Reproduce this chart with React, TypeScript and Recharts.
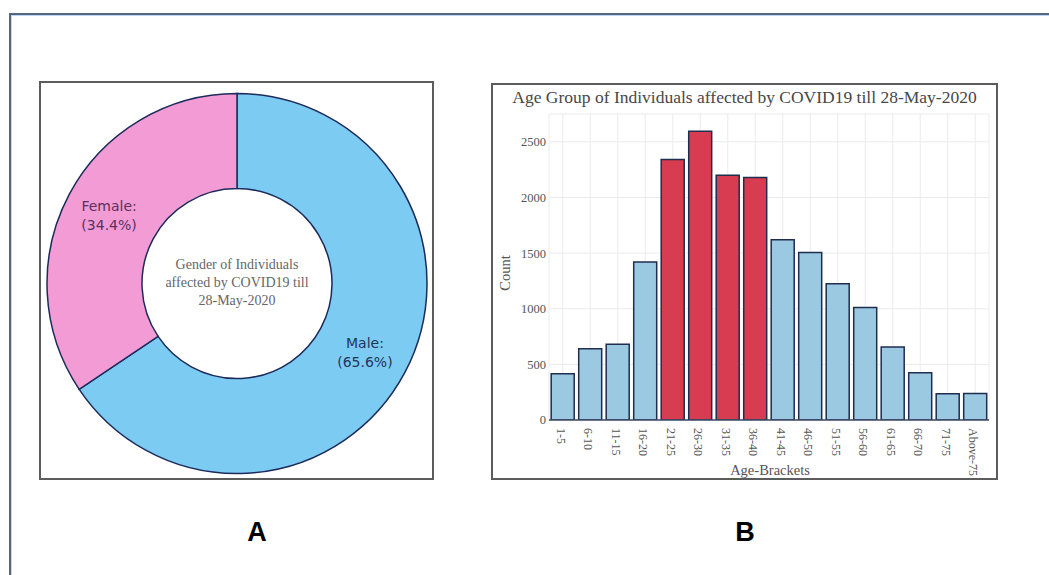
import React from 'react';
import { PieChart, Pie, Cell, BarChart, Bar, XAxis, YAxis, CartesianGrid } from 'recharts';

const genderNames = ['Male', 'Female'];
const genderShares = [65.6, 34.4];
const genderColors = ['#7ccbf3', '#f29bd5'];
const genderLabelColors = ['#1f3658', '#5a3262'];

const ageBrackets = ['1-5', '6-10', '11-15', '16-20', '21-25', '26-30', '31-35', '36-40', '41-45', '46-50', '51-55', '56-60', '61-65', '66-70', '71-75', 'Above-75'];
const ageCounts = [415, 640, 680, 1420, 2340, 2595, 2200, 2180, 1620, 1505, 1225, 1010, 655, 425, 235, 238];
const highlightedBrackets = ['21-25', '26-30', '31-35', '36-40'];
const yTicks = [0, 500, 1000, 1500, 2000, 2500];

const pieData = genderNames.map((name, i) => ({ name, value: genderShares[i] }));
const barData = ageBrackets.map((name, i) => ({ name, count: ageCounts[i] }));

const SERIF = '"Liberation Serif", "Times New Roman", serif';
const SANS = '"DejaVu Sans", Verdana, sans-serif';
const RADIAN = Math.PI / 180;

const renderPieLabel = (props: any) => {
  const { cx, cy, midAngle, index, name, value } = props;
  const r = 145;
  const x = cx + r * Math.cos(-midAngle * RADIAN);
  const y = cy + r * Math.sin(-midAngle * RADIAN);
  return (
    <text x={x} y={y} textAnchor="middle" fontFamily={SANS} fontSize={14} fill={genderLabelColors[index]}>
      <tspan x={x} dy={-4}>{`${name}:`}</tspan>
      <tspan x={x} dy={19}>{`(${Number(value).toFixed(1)}%)`}</tspan>
    </text>
  );
};

const XTick = (props: any) => {
  const { x, y, payload } = props;
  return (
    <text
      x={0}
      y={0}
      transform={`translate(${x - 2},${y}) rotate(90)`}
      textAnchor="start"
      dominantBaseline="central"
      fontFamily={SERIF}
      fontSize={12}
      fill="#555"
    >
      {payload.value}
    </text>
  );
};

export default function App() {
  return (
    <div style={{ position: 'absolute', left: 0, top: 0, width: 1049, height: 575, background: '#fff', overflow: 'hidden' }}>
      {/* outer frame */}
      <div style={{ position: 'absolute', left: 9, top: 13, width: 1100, height: 600, borderTop: '2px solid #56667f', borderLeft: '2px solid #56667f', boxSizing: 'border-box' }}>
        <div style={{ position: 'absolute', left: 0, top: 0, right: 0, bottom: 0, borderTop: '1px solid #bcd6f2', borderLeft: '1px solid #bcd6f2' }} />
      </div>

      {/* Panel A */}
      <div style={{ position: 'absolute', left: 39, top: 81, width: 395, height: 399, border: '2px solid #5c5c5c', boxSizing: 'border-box' }} />
      <div style={{ position: 'absolute', left: 39, top: 81 }}>
        <PieChart width={395} height={399} margin={{ top: 0, right: 0, bottom: 0, left: 0 }}>
          <Pie
            data={pieData}
            dataKey="value"
            nameKey="name"
            cx={198}
            cy={202.5}
            innerRadius={95}
            outerRadius={190}
            startAngle={90}
            endAngle={-270}
            stroke="#1c2b5c"
            strokeWidth={1.5}
            label={renderPieLabel}
            labelLine={false}
            isAnimationActive={false}
          >
            {pieData.map((d, i) => (
              <Cell key={d.name} fill={genderColors[i]} />
            ))}
          </Pie>
        </PieChart>
      </div>
      <div style={{ position: 'absolute', left: 137, top: 256, width: 200, textAlign: 'center', fontFamily: SERIF, fontSize: 14, lineHeight: '18px', color: '#666' }}>
        Gender of Individuals<br />affected by COVID19 till<br />28-May-2020
      </div>

      {/* Panel B */}
      <div style={{ position: 'absolute', left: 491, top: 83, width: 507, height: 397, border: '2px solid #5c5c5c', boxSizing: 'border-box' }} />
      <div style={{ position: 'absolute', left: 491, top: 86, width: 507, textAlign: 'center', fontFamily: SERIF, fontSize: 17.5, lineHeight: '22px', color: '#474747' }}>
        Age Group of Individuals affected by COVID19 till 28-May-2020
      </div>
      <div style={{ position: 'absolute', left: 491, top: 83 }}>
        <BarChart
          width={507}
          height={397}
          data={barData}
          margin={{ top: 31, right: 9, bottom: 10, left: 8 }}
          barCategoryGap="8%"
        >
          <CartesianGrid stroke="#ebebeb" strokeWidth={1} />
          <XAxis
            dataKey="name"
            interval={0}
            height={50}
            tick={<XTick />}
            tickLine={false}
            axisLine={{ stroke: '#3c4a66', strokeWidth: 1.5 }}
          />
          <YAxis
            width={50}
            domain={[0, 2750]}
            ticks={yTicks}
            allowDataOverflow
            tickLine={false}
            axisLine={false}
            tickSize={0}
            tickMargin={3}
            tick={{ fontFamily: SERIF, fontSize: 12.5, fill: '#555' }}
          />
          <Bar dataKey="count" stroke="#1f2d4e" strokeWidth={1.5} isAnimationActive={false}>
            {barData.map((d) => (
              <Cell key={d.name} fill={highlightedBrackets.includes(d.name) ? '#d83c50' : '#9cc9e2'} />
            ))}
          </Bar>
        </BarChart>
      </div>
      <div style={{ position: 'absolute', left: 690, top: 461, width: 160, textAlign: 'center', fontFamily: SERIF, fontSize: 14.5, lineHeight: '18px', color: '#555' }}>
        Age-Brackets
      </div>
      <div style={{ position: 'absolute', left: 505, top: 273, width: 0, height: 0 }}>
        <div style={{ position: 'absolute', left: -40, top: -9, width: 80, textAlign: 'center', transform: 'rotate(-90deg)', fontFamily: SERIF, fontSize: 14.5, lineHeight: '18px', color: '#555' }}>
          Count
        </div>
      </div>

      {/* Panel letters */}
      <div style={{ position: 'absolute', left: 207, top: 516, width: 100, textAlign: 'center', fontFamily: '"Liberation Sans", Arial, sans-serif', fontWeight: 'bold', fontSize: 27, lineHeight: '32px', color: '#000' }}>A</div>
      <div style={{ position: 'absolute', left: 695, top: 516, width: 100, textAlign: 'center', fontFamily: '"Liberation Sans", Arial, sans-serif', fontWeight: 'bold', fontSize: 27, lineHeight: '32px', color: '#000' }}>B</div>
    </div>
  );
}
